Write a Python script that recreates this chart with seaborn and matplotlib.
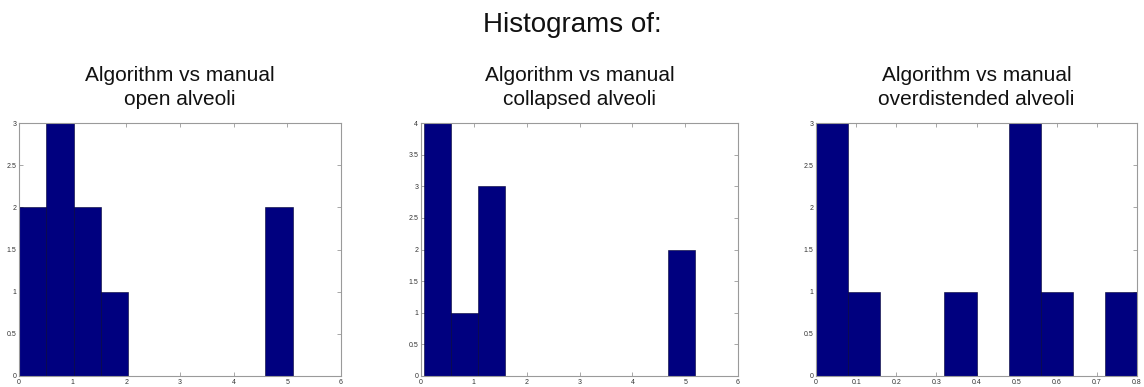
import numpy as np
import pandas as pd
import matplotlib
matplotlib.use("Agg")
import matplotlib.pyplot as plt
import seaborn as sns
from matplotlib.ticker import FuncFormatter, MultipleLocator

# ---- data ----
panel_titles = [
    "Algorithm vs manual\nopen alveoli",
    "Algorithm vs manual\ncollapsed alveoli",
    "Algorithm vs manual\noverdistended alveoli",
]
open_range = (0.0, 5.10)
open_counts = [2, 3, 2, 1, 0, 0, 0, 0, 0, 2]
collapsed_range = (0.06, 5.18)
collapsed_counts = [4, 1, 3, 0, 0, 0, 0, 0, 0, 2]
over_range = (0.0, 0.80)
over_counts = [3, 1, 0, 0, 1, 0, 3, 1, 0, 1]

x_limits = [(0, 6), (0, 6), (0, 0.8)]
x_steps = [1, 1, 0.1]
y_limits = [(0, 3), (0, 4), (0, 3)]
y_step = 0.5

sns.set_style("white")
plt.rcParams["font.family"] = ["Liberation Sans", "DejaVu Sans"]

fig = plt.figure(figsize=(11.44, 3.87), dpi=100)
positions = [
    [19 / 1144, 11 / 387, 322 / 1144, 253 / 387],
    [421 / 1144, 11 / 387, 317 / 1144, 253 / 387],
    [816 / 1144, 11 / 387, 321 / 1144, 253 / 387],
]
datasets = [
    (open_range, open_counts),
    (collapsed_range, collapsed_counts),
    (over_range, over_counts),
]

fmt = FuncFormatter(lambda v, p: ("%g" % round(v, 3)))

for i, ((lo, hi), counts) in enumerate(datasets):
    ax = fig.add_axes(positions[i])
    n = len(counts)
    edges = np.linspace(lo, hi, n + 1)
    centers = (edges[:-1] + edges[1:]) / 2
    df = pd.DataFrame({"center": centers, "count": np.asarray(counts, float)})
    sns.histplot(data=df, x="center", weights="count", bins=list(edges), ax=ax,
                 color="#00007F", edgecolor="#000033", linewidth=0.4,
                 alpha=1.0)
    ax.set_xlim(*x_limits[i])
    ax.set_ylim(*y_limits[i])
    ax.xaxis.set_major_locator(MultipleLocator(x_steps[i]))
    ax.yaxis.set_major_locator(MultipleLocator(y_step))
    ax.xaxis.set_major_formatter(fmt)
    ax.yaxis.set_major_formatter(fmt)
    ax.set_xlabel("")
    ax.set_ylabel("")
    ax.tick_params(direction="in", length=3, width=0.6, colors="#999999",
                   labelsize=5, labelcolor="#333333", pad=2,
                   top=True, right=True, bottom=True, left=True)
    for s in ax.spines.values():
        s.set_visible(True)
        s.set_color("#9a9a9a")
        s.set_linewidth(0.8)
    ax.set_title(panel_titles[i], fontsize=15, pad=13, color="#111111",
                 linespacing=1.3)

fig.suptitle("Histograms of:", fontsize=20, y=0.97, color="#111111")

fig.savefig("out.png", dpi=100, facecolor="white")
